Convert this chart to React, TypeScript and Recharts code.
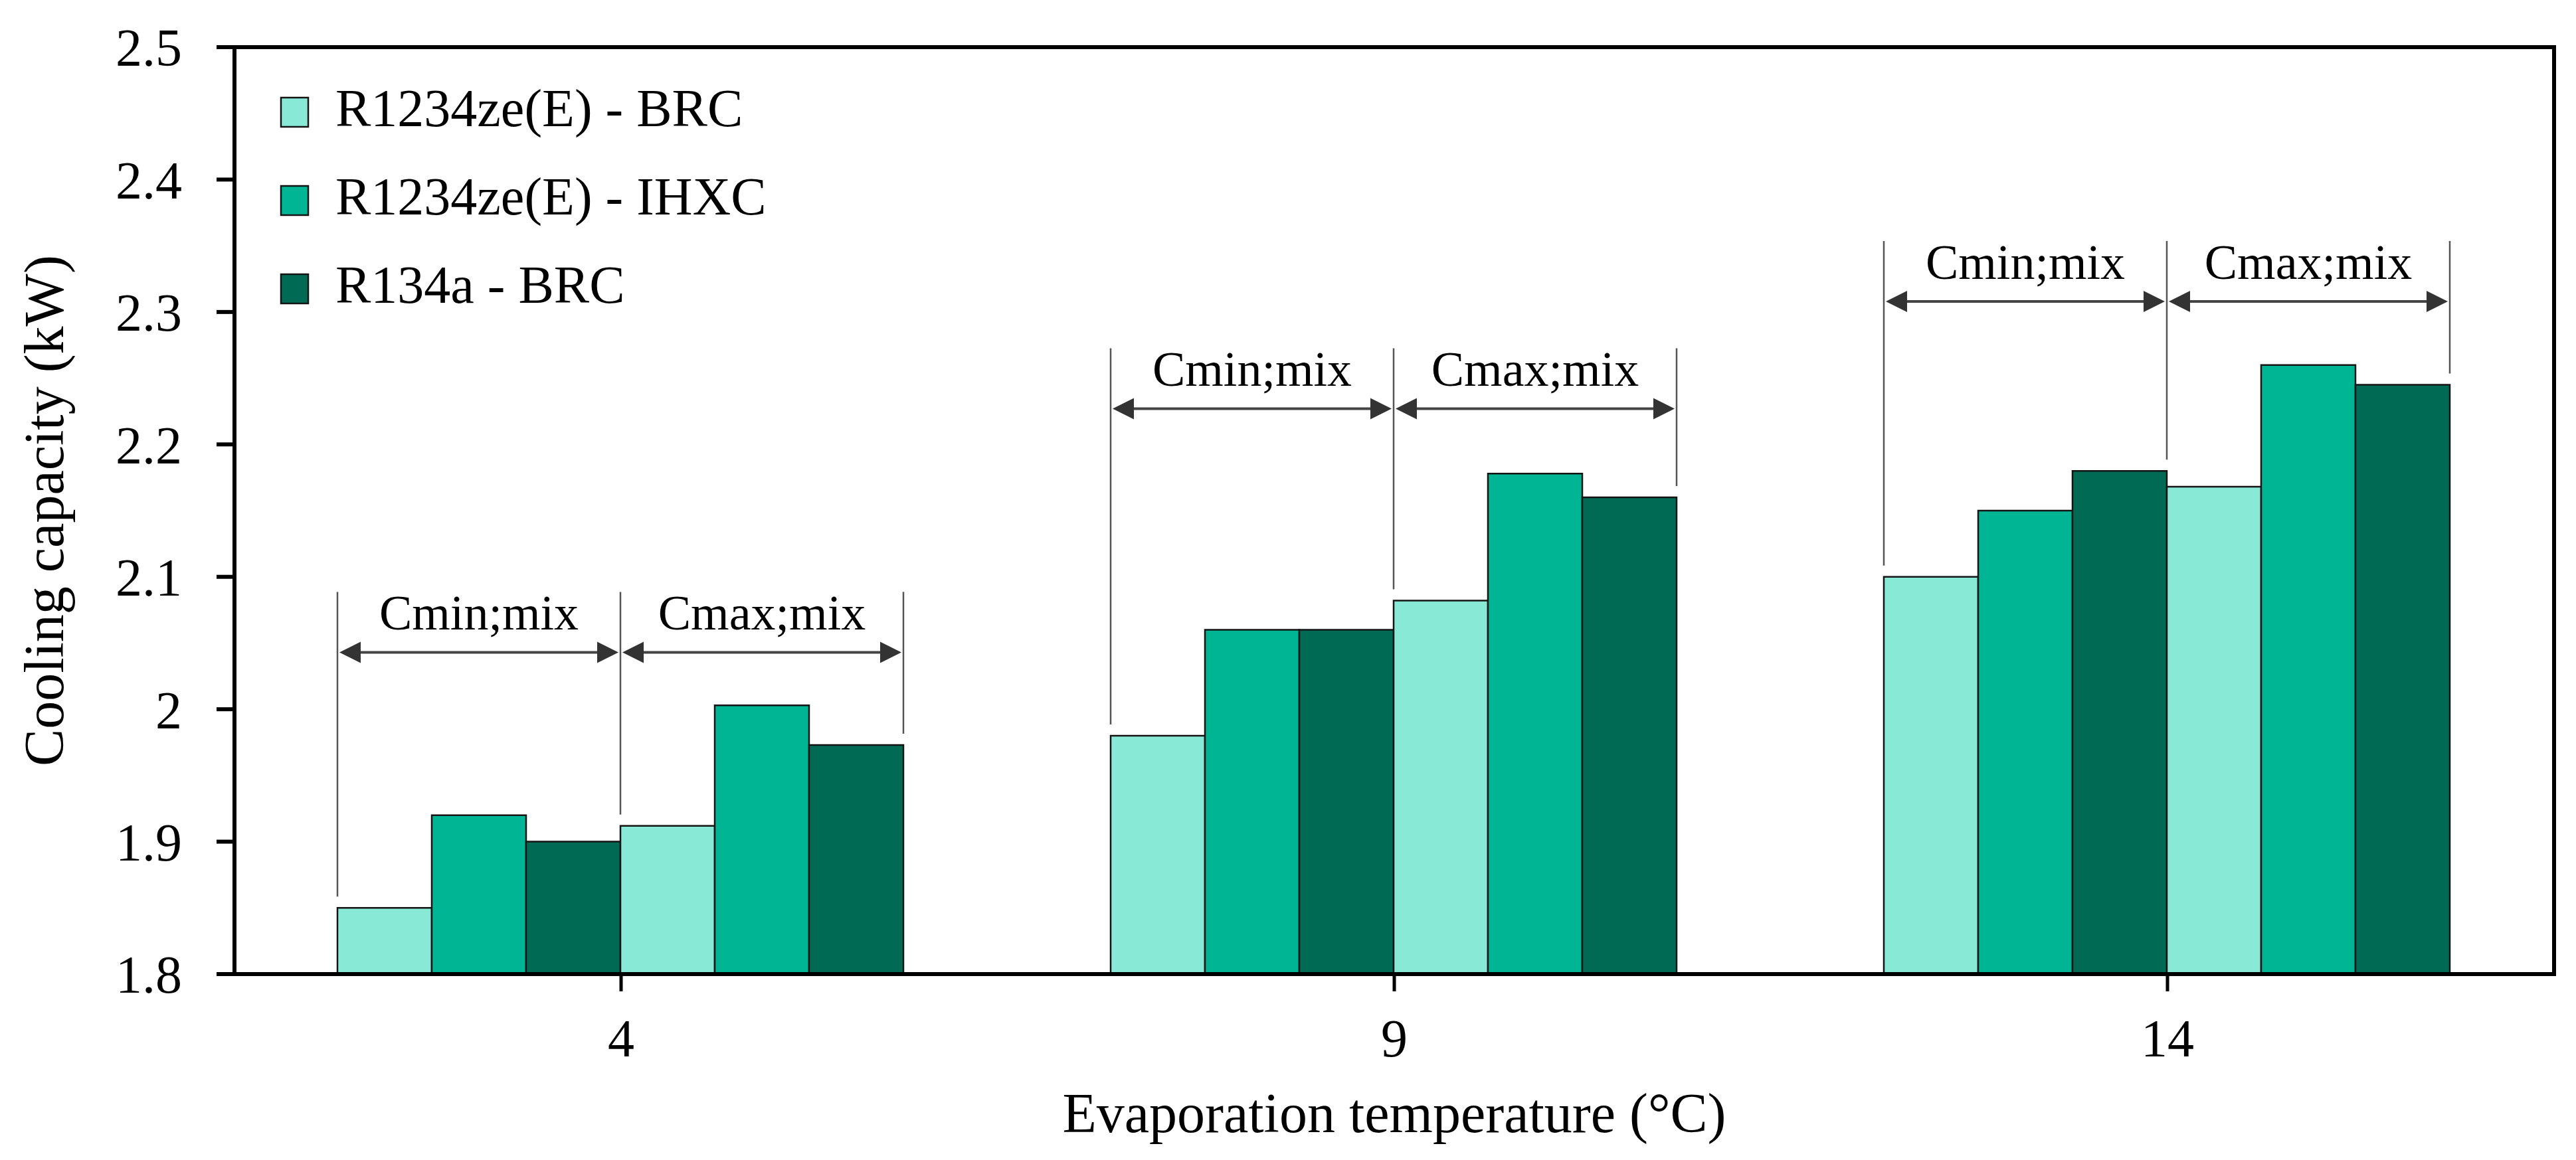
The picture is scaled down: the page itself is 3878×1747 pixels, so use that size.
import React from 'react';
import { BarChart, Bar, XAxis, YAxis, Legend, ReferenceArea } from 'recharts';

// evaporation temperatures (°C)
const temps = ['4', '9', '14'];

// cooling capacity (kW), C min;mix
const brcMin = [1.85, 1.98, 2.1];
const ihxcMin = [1.92, 2.06, 2.15];
const r134aMin = [1.9, 2.06, 2.18];

// cooling capacity (kW), C max;mix
const brcMax = [1.912, 2.082, 2.168];
const ihxcMax = [2.003, 2.178, 2.26];
const r134aMax = [1.973, 2.16, 2.245];

// level of the double arrows above each group (kW)
const arrowLevel = [2.043, 2.227, 2.308];

const yTicks = [1.8, 1.9, 2, 2.1, 2.2, 2.3, 2.4, 2.5];
const legendLabels = ['R1234ze(E) - BRC', 'R1234ze(E) - IHXC', 'R134a - BRC'];
const spanLabels = ['Cmin;mix', 'Cmax;mix'];

const Y_MIN = 1.8;
const Y_MAX = 2.5;
const FONT = 'Liberation Serif, Times New Roman, serif';
const COLORS = ['#89E9D7', '#00B594', '#016A54'];
const EDGE = '#141414';

const data = temps.map((t, i) => ({
  t,
  brcMin: brcMin[i],
  ihxcMin: ihxcMin[i],
  r134aMin: r134aMin[i],
  brcMax: brcMax[i],
  ihxcMax: ihxcMax[i],
  r134aMax: r134aMax[i],
}));

function Arrow({ from, to, y }: { from: number; to: number; y: number }) {
  const a = from + 3;
  const b = to - 3;
  return (
    <g fill="#333" stroke="none">
      <line x1={a + 20} y1={y} x2={b - 20} y2={y} stroke="#444" strokeWidth={4} />
      <polygon points={`${a},${y} ${a + 32},${y - 16} ${a + 32},${y + 16}`} />
      <polygon points={`${b},${y} ${b - 32},${y - 16} ${b - 32},${y + 16}`} />
    </g>
  );
}

// first series draws its bar plus the span markers of the whole group
function AnnotatedBar(props: any) {
  const { x, y, width, height, index, fill } = props;
  const v = brcMin[index];
  const base = y + height;
  const k = height / (v - Y_MIN);
  const py = (val: number) => base - (val - Y_MIN) * k;

  const x0 = x;
  const x1 = x + 3 * width;
  const x2 = x + 6 * width;
  const ya = py(arrowLevel[index]);
  const top = ya - 91;
  const gap = 17;
  const lines = [
    { x: x0, bottom: py(brcMin[index]) - gap },
    { x: x1, bottom: py(Math.max(r134aMin[index], brcMax[index])) - gap },
    { x: x2, bottom: py(r134aMax[index]) - gap },
  ];

  return (
    <g>
      <rect x={x} y={y} width={width} height={height} fill={fill} stroke={EDGE} strokeWidth={2.5} />
      {lines.map((l, i) => (
        <line key={i} x1={l.x} y1={top} x2={l.x} y2={l.bottom} stroke="#555" strokeWidth={2.5} />
      ))}
      <Arrow from={x0} to={x1} y={ya} />
      <Arrow from={x1} to={x2} y={ya} />
      <text x={(x0 + x1) / 2} y={ya - 34} textAnchor="middle" fontSize={74} fontFamily={FONT} fill="#000">
        {spanLabels[0]}
      </text>
      <text x={(x1 + x2) / 2} y={ya - 34} textAnchor="middle" fontSize={74} fontFamily={FONT} fill="#000">
        {spanLabels[1]}
      </text>
    </g>
  );
}

function LegendBox() {
  return (
    <svg width={780} height={380} style={{ display: 'block' }}>
      {legendLabels.map((name, i) => {
        const cy = 59 + i * 133;
        return (
          <g key={name}>
            <rect x={2} y={cy - 22} width={41} height={44} fill={COLORS[i]} stroke={EDGE} strokeWidth={2.5} />
            <text x={84} y={cy + 21} fontSize={80} fontFamily={FONT} fill="#000">
              {name}
            </text>
          </g>
        );
      })}
    </svg>
  );
}

const tickStyle = { fontSize: 80, fontFamily: FONT, fill: '#000' };

export default function App() {
  return (
    <div style={{ width: 3878, height: 1747, background: '#fff' }}>
      <style>{'body{margin:0;}'}</style>
      <BarChart
        width={3878}
        height={1747}
        data={data}
        margin={{ top: 71, right: 33, bottom: 0, left: 0 }}
        barCategoryGap={155}
        barGap={0}
      >
        <XAxis
          dataKey="t"
          height={280}
          tickSize={26}
          tickMargin={41}
          tick={tickStyle}
          axisLine={{ stroke: '#000', strokeWidth: 6 }}
          tickLine={{ stroke: '#000', strokeWidth: 5 }}
          label={{
            content: (p: any) => {
              const vb = p.viewBox || { x: 353, y: 1467, width: 3492, height: 280 };
              return (
                <text x={vb.x + vb.width / 2} y={vb.y + 238} textAnchor="middle" fontSize={84} fontFamily={FONT} fill="#000">
                  Evaporation temperature (°C)
                </text>
              );
            },
          }}
        />
        <YAxis
          width={353}
          domain={[Y_MIN, Y_MAX]}
          ticks={yTicks}
          interval={0}
          allowDataOverflow
          tickSize={27}
          tickMargin={52}
          tick={tickStyle}
          axisLine={{ stroke: '#000', strokeWidth: 6 }}
          tickLine={{ stroke: '#000', strokeWidth: 6 }}
          label={{
            content: (p: any) => {
              const vb = p.viewBox || { x: 0, y: 71, width: 353, height: 1396 };
              const cy = vb.y + vb.height / 2;
              return (
                <text x={95} y={cy} transform={`rotate(-90, 95, ${cy})`} textAnchor="middle" fontSize={84} fontFamily={FONT} fill="#000">
                  Cooling capacity (kW)
                </text>
              );
            },
          }}
        />
        <ReferenceArea y1={Y_MIN} y2={Y_MAX} fill="none" fillOpacity={0} stroke="#000" strokeWidth={6} ifOverflow="visible" />
        <Bar dataKey="brcMin" name={legendLabels[0]} fill={COLORS[0]} stroke={EDGE} strokeWidth={2.5} shape={AnnotatedBar} isAnimationActive={false} />
        <Bar dataKey="ihxcMin" name={legendLabels[1]} fill={COLORS[1]} stroke={EDGE} strokeWidth={2.5} isAnimationActive={false} />
        <Bar dataKey="r134aMin" name={legendLabels[2]} fill={COLORS[2]} stroke={EDGE} strokeWidth={2.5} isAnimationActive={false} />
        <Bar dataKey="brcMax" legendType="none" fill={COLORS[0]} stroke={EDGE} strokeWidth={2.5} isAnimationActive={false} />
        <Bar dataKey="ihxcMax" legendType="none" fill={COLORS[1]} stroke={EDGE} strokeWidth={2.5} isAnimationActive={false} />
        <Bar dataKey="r134aMax" legendType="none" fill={COLORS[2]} stroke={EDGE} strokeWidth={2.5} isAnimationActive={false} />
        <Legend
          layout="vertical"
          align="center"
          verticalAlign="middle"
          content={() => <LegendBox />}
          wrapperStyle={{ left: 421, top: 110, width: 'auto', height: 'auto' }}
        />
      </BarChart>
    </div>
  );
}
